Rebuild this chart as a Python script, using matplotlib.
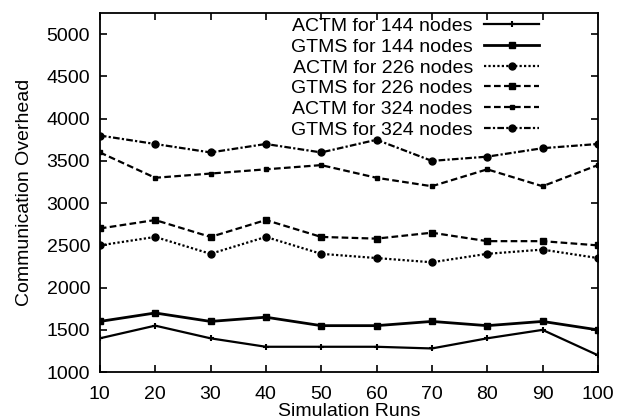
import matplotlib.pyplot as plt

plt.rcParams['font.family'] = ['Liberation Sans', 'DejaVu Sans']

runs = [10, 20, 30, 40, 50, 60, 70, 80, 90, 100]

actm_144 = [1400, 1550, 1400, 1300, 1300, 1300, 1280, 1400, 1500, 1200]
gtms_144 = [1600, 1700, 1600, 1650, 1550, 1550, 1600, 1550, 1600, 1500]
actm_226 = [2500, 2600, 2400, 2600, 2400, 2350, 2300, 2400, 2450, 2350]
gtms_226 = [2700, 2800, 2600, 2800, 2600, 2580, 2650, 2550, 2550, 2500]
actm_324 = [3600, 3300, 3350, 3400, 3450, 3300, 3200, 3400, 3200, 3450]
gtms_324 = [3800, 3700, 3600, 3700, 3600, 3750, 3500, 3550, 3650, 3700]

yticks = [1000, 1500, 2000, 2500, 3000, 3500, 4000, 4500, 5000]

fig = plt.figure(figsize=(6.28, 4.2), dpi=100)
ax = fig.add_axes([0.159, 0.114, 0.793, 0.855])

ax.plot(runs, actm_144, color='black', lw=1.6, ls='-', marker='+', ms=5, mew=1.5,
        label='ACTM for 144 nodes')
ax.plot(runs, gtms_144, color='black', lw=2.0, ls='-', marker='s', ms=4,
        label='GTMS for 144 nodes')
ax.plot(runs, actm_226, color='black', lw=1.6, ls=(0, (1, 1)), marker='o', ms=5,
        label='ACTM for 226 nodes')
ax.plot(runs, gtms_226, color='black', lw=1.6, ls=(0, (3, 1.5)), marker='s', ms=5,
        label='GTMS for 226 nodes')
ax.plot(runs, actm_324, color='black', lw=1.6, ls=(0, (3, 1.5)), marker='s', ms=3,
        label='ACTM for 324 nodes')
ax.plot(runs, gtms_324, color='black', lw=1.6, ls=(0, (3, 1, 1, 1)), marker='o', ms=5,
        label='GTMS for 324 nodes')

ax.set_xlim(10, 100)
ax.set_ylim(1000, 5250)
ax.set_xticks(runs)
ax.set_yticks(yticks)
ax.tick_params(direction='in', top=True, right=True, labelsize=14, length=5,
               width=1.2, pad=7)
ax.tick_params(axis='x', pad=10)
for s in ax.spines.values():
    s.set_linewidth(1.3)

ax.set_xlabel('Simulation Runs', fontsize=14, labelpad=0)
ax.set_ylabel('Communication Overhead', fontsize=14, labelpad=10)

ax.legend(loc='upper right', bbox_to_anchor=(0.905, 1.02), frameon=False,
          markerfirst=False, fontsize=14, handlelength=2.8, labelspacing=0.16,
          handletextpad=0.6, borderaxespad=0.2)

fig.savefig('out.png', dpi=100)
